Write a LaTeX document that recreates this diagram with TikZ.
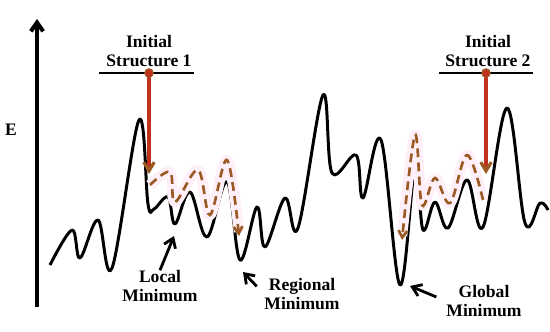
\documentclass[tikz,border=0pt]{standalone}
\usepackage{fontspec}
\setmainfont{Liberation Serif}
\usepackage{xcolor}
\usetikzlibrary{arrows.meta, positioning}

\definecolor{startred}{HTML}{C0311F}
\definecolor{pathbrown}{HTML}{9A5A24}
\definecolor{glowpink}{HTML}{FEEFF8}

\begin{document}
\begin{tikzpicture}[x=0.02cm, y=-0.02cm,
  lbl/.style={font=\bfseries\fontsize{10}{10.5}\selectfont, align=center, inner sep=0pt},
  arr/.style={-{Straight Barb[length=5pt, width=7pt]}, line width=1.6pt},
  surface/.style={line width=1.7pt, line join=round},
  level/.style={line width=1.7pt},
  drop/.style={startred, line width=1.8pt, -{Straight Barb[length=5pt, width=6pt, color=pathbrown]}},
  walk/.style={pathbrown, dashed, dash pattern=on 5pt off 3pt, line width=1.5pt, -{Straight Barb[length=4pt, width=5pt]}},
  glow/.style={glowpink, line width=6pt, line join=round},
]
  \useasboundingbox (0,0) rectangle (550,331);

  % Energy axis
  \coordinate (axbot) at (37,307);
  \coordinate (axtop) at (37,19);
  \draw[arr, line width=2.3pt] (axbot) -- (axtop);
  \node[lbl] (elabel) at (11,130) {E};

  % Energy landscape
  \draw[surface] plot[smooth, tension=0.6] coordinates {
    (50,265) (72,230) (80,258) (98,220) (112,268) (139,120) (148,204) (154,209)
    (168,197) (175,224) (190,192) (207,237) (227,182) (240,260) (257,207) (265,247)
    (285,198) (298,228) (323,95) (332,173) (356,155) (363,198) (381,140) (400,285)
    (415,167) (423,230) (435,202) (448,228) (467,180) (483,227) (507,108) (525,223)
    (540,203) (548,210)};

  % Initial structure 1
  \coordinate (lv1a) at (99,73);
  \coordinate (lv1b) at (194,73);
  \draw[level] (lv1a) -- (lv1b);
  \node[lbl] (init1) at (149,51) {Initial\\Structure 1};
  \coordinate (st1) at (149,73);
  \coordinate (st1end) at (149,174);

  % Initial structure 2
  \coordinate (lv2a) at (439,73);
  \coordinate (lv2b) at (533,73);
  \draw[level] (lv2a) -- (lv2b);
  \node[lbl] (init2) at (488,51) {Initial\\Structure 2};
  \coordinate (st2) at (486,73);
  \coordinate (st2end) at (486,174);

  % Relaxation paths
  \draw[glow] plot[smooth, tension=0.6] coordinates {
    (150,185) (170,172) (175,202) (198,170) (210,215) (227,160) (239,232)};
  \draw[glow] plot[smooth, tension=0.6] coordinates {
    (483,200) (467,155) (450,203) (435,178) (422,205) (415,135) (402,236)};
  \draw[drop] (st1) -- (st1end);
  \draw[drop] (st2) -- (st2end);
  \draw[walk] plot[smooth, tension=0.6] coordinates {
    (150,185) (170,172) (175,202) (198,170) (210,215) (227,160) (239,236)};
  \draw[walk] plot[smooth, tension=0.6] coordinates {
    (483,200) (467,155) (450,203) (435,178) (422,205) (415,135) (402,240)};
  \fill[startred, draw=pathbrown, line width=0.6pt] (st1) circle (2.4pt);
  \fill[startred, draw=pathbrown, line width=0.6pt] (st2) circle (2.4pt);

  % Minima labels
  \node[lbl] (locmin) at (160,286) {Local\\Minimum};
  \node[lbl] (regmin) at (302,294) {Regional\\Minimum};
  \node[lbl] (glomin) at (484,301) {Global\\Minimum};

  \coordinate (loctip) at (174,236);
  \coordinate (regtip) at (243,272);
  \coordinate (glotip) at (410,286);
  \draw[arr] (locmin.north) -- (loctip);
  \draw[arr, shorten <=6pt] (regmin.west) -- (regtip);
  \draw[arr, shorten <=6pt] (glomin.west) -- (glotip);

\end{tikzpicture}
\end{document}
